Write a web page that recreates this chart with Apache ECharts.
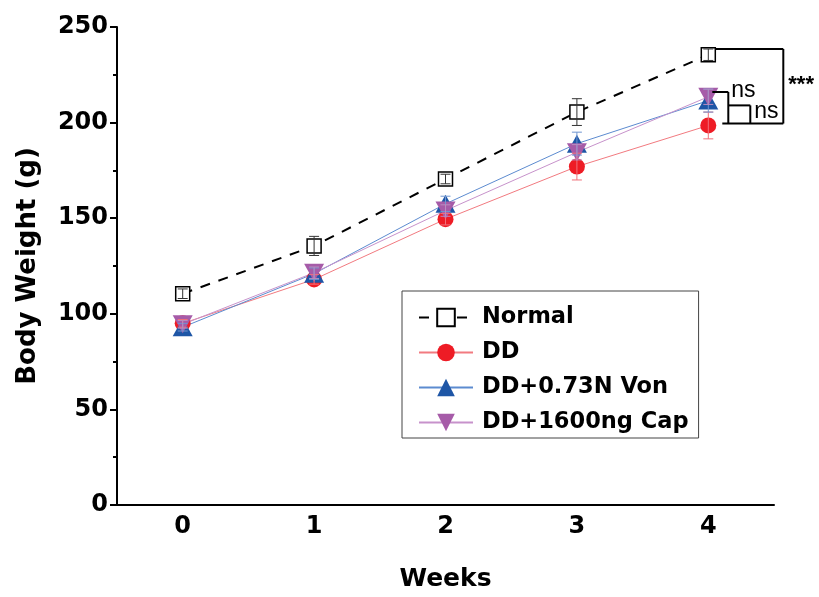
<!DOCTYPE html>
<html>
<head>
<meta charset="utf-8">
<script src="https://cdn.jsdelivr.net/npm/echarts@6/dist/echarts.min.js"></script>
<style>
  html, body { margin: 0; padding: 0; background: #fff; }
  #main { width: 819px; height: 597px; }
</style>
</head>
<body>
<div id="main"></div>
<script>
// values
const weeks = ["0", "1", "2", "3", "4"];
const groups = ["Normal", "DD", "DD+0.73N Von", "DD+1600ng Cap"];
const normal = [110.5, 135.5, 170.5, 205.5, 235.5];
const normalErr = [2.5, 5, 2.5, 7, 3];
const dd = [95, 118, 149.5, 177, 198.5];
const ddErr = [2, 2.5, 3, 7, 7];
const von = [93, 121, 157.5, 189, 211.5];
const vonErr = [2, 3, 4, 6, 6];
const cap = [94.5, 121.5, 154, 184.5, 213.5];
const capErr = [2, 3, 3, 4, 4];

const fontFam = "'DejaVu Sans', sans-serif";
const nsFont = "'Liberation Sans', Arial, sans-serif";

let chart = echarts.init(document.getElementById("main"));

function errData(vals, errs) {
    return vals.map((v, i) => [i, v, errs[i]]);
}

function errSeries(name, vals, errs, color) {
    return {
        type: "custom",
        name: "err " + name,
        z: 4,
        silent: true,
        encode: { x: 0, y: 1 },
        data: errData(vals, errs),
        renderItem: function (params, api) {
            let x = api.value(0), m = api.value(1), e = api.value(2);
            let top = api.coord([x, m + e]);
            let bot = api.coord([x, m - e]);
            let w = 5;
            let st = { stroke: color, lineWidth: 1 };
            return {
                type: "group",
                children: [
                    { type: "line", shape: { x1: top[0], y1: top[1], x2: bot[0], y2: bot[1] }, style: st },
                    { type: "line", shape: { x1: top[0] - w, y1: top[1], x2: top[0] + w, y2: top[1] }, style: st },
                    { type: "line", shape: { x1: bot[0] - w, y1: bot[1], x2: bot[0] + w, y2: bot[1] }, style: st }
                ]
            };
        }
    };
}

// significance brackets next to week 4
let bracketSeries = {
    type: "custom",
    silent: true,
    z: 5,
    data: [[4]],
    renderItem: function (params, api) {
        let p0 = api.coord([4, normal[4]]);
        let pTop = api.coord([4, normal[4] + 3]);
        let pBot = api.coord([4, dd[4] + 1]);
        let pA = api.coord([4, von[4] + 4.5]);
        let pB = api.coord([4, von[4] - 2.5]);
        let x = p0[0];
        let st = { stroke: "#000", lineWidth: 2 };
        let ln = (x1, y1, x2, y2) => ({ type: "line", shape: { x1, y1, x2, y2 }, style: st });
        let txt = (t, tx, ty, sz) => ({
            type: "text",
            style: { text: t, x: tx, y: ty, fill: "#000", font: sz + "px " + nsFont, textVerticalAlign: "middle" }
        });
        return {
            type: "group",
            children: [
                ln(x + 7, pTop[1], x + 75, pTop[1]),
                ln(x + 75, pTop[1], x + 75, pBot[1]),
                ln(x + 14, pBot[1], x + 75, pBot[1]),
                ln(x + 4, pA[1], x + 20, pA[1]),
                ln(x + 20, pA[1], x + 20, pBot[1]),
                ln(x + 20, pB[1], x + 42, pB[1]),
                ln(x + 42, pB[1], x + 42, pBot[1]),
                txt("ns", x + 23, pA[1] - 1, 23),
                txt("ns", x + 46, pB[1] + 6, 23),
                {
                    type: "text",
                    style: { text: "***", x: x + 80, y: (pTop[1] + pBot[1]) / 2 - 1, fill: "#000",
                        font: "bold 22px " + nsFont, textVerticalAlign: "middle" }
                }
            ]
        };
    }
};

let option = {
    backgroundColor: "#fff",
    animation: false,
    grid: { left: 117, right: 45, top: 27, bottom: 89 },
    legend: {
        orient: "vertical",
        left: 402,
        top: 291,
        padding: [15, 10, 4, 16],
        itemGap: 12,
        itemWidth: 54,
        itemHeight: 22,
        borderColor: "#444",
        borderWidth: 1,
        textStyle: { fontSize: 22.5, fontWeight: "bold", color: "#000", fontFamily: fontFam, padding: [0, 0, 0, 4] },
        data: groups
    },
    xAxis: [
        {
            type: "category",
            data: weeks,
            name: "Weeks",
            nameLocation: "middle",
            nameGap: 62,
            nameTextStyle: { fontSize: 25, fontWeight: "bold", color: "#000", fontFamily: fontFam },
            axisLine: { lineStyle: { color: "#000", width: 2 } },
            axisTick: { alignWithLabel: true, length: 7, lineStyle: { width: 2, color: "#000" } },
            axisLabel: { fontSize: 24, fontWeight: "bold", color: "#000", margin: 10, fontFamily: fontFam },
            splitLine: { show: false }
        },
        {
            type: "category",
            data: weeks,
            position: "bottom",
            axisLine: { show: false },
            axisTick: { length: 5, lineStyle: { width: 2, color: "#000" } },
            axisLabel: { show: false },
            splitLine: { show: false }
        }
    ],
    yAxis: {
        type: "value",
        min: 0,
        max: 250,
        interval: 50,
        name: "Body Weight (g)",
        nameLocation: "middle",
        nameGap: 76,
        nameTextStyle: { fontSize: 26, fontWeight: "bold", color: "#000", fontFamily: fontFam },
        axisLine: { show: true, lineStyle: { color: "#000", width: 2 } },
        axisTick: { show: true, length: 7, lineStyle: { width: 2, color: "#000" } },
        minorTick: { show: true, splitNumber: 2, length: 4, lineStyle: { width: 2, color: "#000" } },
        axisLabel: { fontSize: 24, fontWeight: "bold", color: "#000", margin: 9, fontFamily: fontFam },
        splitLine: { show: false }
    },
    series: [
        errSeries("Normal", normal, normalErr, "#333"),
        errSeries("DD", dd, ddErr, "#f0707a"),
        errSeries("DD+0.73N Von", von, vonErr, "#6f95d0"),
        errSeries("DD+1600ng Cap", cap, capErr, "#b98cc0"),
        {
            name: groups[0],
            type: "line",
            data: normal,
            z: 3,
            symbol: "rect",
            symbolSize: 14,
            itemStyle: { color: "#fff", borderColor: "#000", borderWidth: 1.5 },
            lineStyle: { color: "#000", width: 2, type: [10, 9] }
        },
        {
            name: groups[1],
            type: "line",
            data: dd,
            z: 3,
            symbol: "circle",
            symbolSize: 16,
            itemStyle: { color: "#ee1c25" },
            lineStyle: { color: "#f27a80", width: 1 }
        },
        {
            name: groups[2],
            type: "line",
            data: von,
            z: 3,
            symbol: "triangle",
            symbolSize: [20, 18],
            itemStyle: { color: "#1e56a6" },
            lineStyle: { color: "#5c8bd0", width: 1 }
        },
        {
            name: groups[3],
            type: "line",
            data: cap,
            z: 3,
            symbol: "triangle",
            symbolRotate: 180,
            symbolSize: [20, 18],
            itemStyle: { color: "#a65ba8" },
            lineStyle: { color: "#c792cb", width: 1 }
        },
        bracketSeries
    ]
};

chart.setOption(option);
</script>
</body>
</html>
